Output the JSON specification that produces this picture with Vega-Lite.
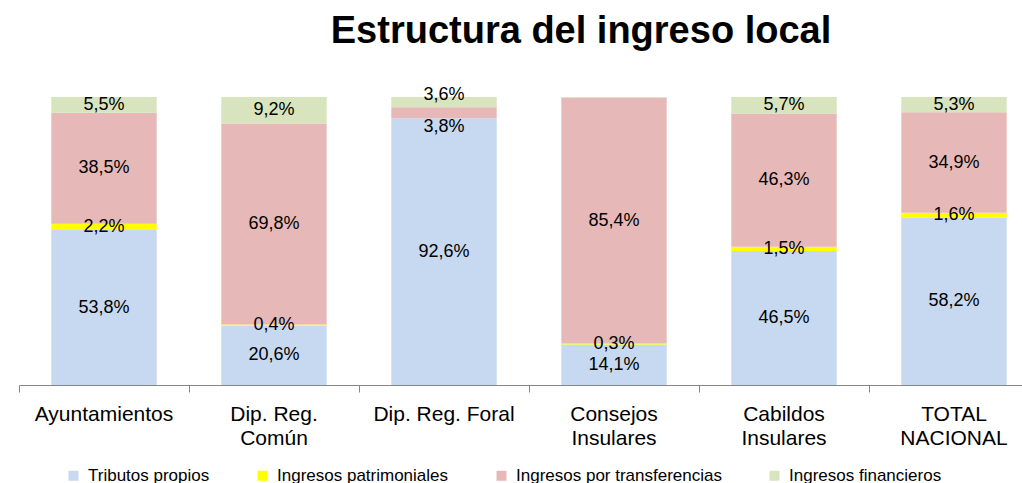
{
  "$schema": "https://vega.github.io/schema/vega-lite/v6.json",
  "width": 1020,
  "height": 288,
  "autosize": {"type": "none"},
  "padding": {"left": 19, "top": 97, "right": 0, "bottom": 98},
  "background": "white",
  "config": {"view": {"stroke": null}},
  "title": {
    "text": "Estructura del ingreso local",
    "font": "Liberation Sans",
    "fontSize": 38,
    "fontWeight": "bold",
    "color": "black",
    "anchor": "middle",
    "dx": 52,
    "offset": 5,
    "baseline": "alphabetic"
  },
  "data": {
    "values": [
      {"cat": "Ayuntamientos", "tipo": "Tributos propios", "valor": 53.8},
      {"cat": "Ayuntamientos", "tipo": "Ingresos patrimoniales", "valor": 2.2},
      {"cat": "Ayuntamientos", "tipo": "Ingresos por transferencias", "valor": 38.5},
      {"cat": "Ayuntamientos", "tipo": "Ingresos financieros", "valor": 5.5},
      {"cat": "Dip. Reg.|Común", "tipo": "Tributos propios", "valor": 20.6},
      {"cat": "Dip. Reg.|Común", "tipo": "Ingresos patrimoniales", "valor": 0.4},
      {"cat": "Dip. Reg.|Común", "tipo": "Ingresos por transferencias", "valor": 69.8},
      {"cat": "Dip. Reg.|Común", "tipo": "Ingresos financieros", "valor": 9.2},
      {"cat": "Dip. Reg. Foral", "tipo": "Tributos propios", "valor": 92.6},
      {"cat": "Dip. Reg. Foral", "tipo": "Ingresos patrimoniales", "valor": 0.0},
      {"cat": "Dip. Reg. Foral", "tipo": "Ingresos por transferencias", "valor": 3.8},
      {"cat": "Dip. Reg. Foral", "tipo": "Ingresos financieros", "valor": 3.6},
      {"cat": "Consejos|Insulares", "tipo": "Tributos propios", "valor": 14.1},
      {"cat": "Consejos|Insulares", "tipo": "Ingresos patrimoniales", "valor": 0.3},
      {"cat": "Consejos|Insulares", "tipo": "Ingresos por transferencias", "valor": 85.4},
      {"cat": "Consejos|Insulares", "tipo": "Ingresos financieros", "valor": 0.2},
      {"cat": "Cabildos|Insulares", "tipo": "Tributos propios", "valor": 46.5},
      {"cat": "Cabildos|Insulares", "tipo": "Ingresos patrimoniales", "valor": 1.5},
      {"cat": "Cabildos|Insulares", "tipo": "Ingresos por transferencias", "valor": 46.3},
      {"cat": "Cabildos|Insulares", "tipo": "Ingresos financieros", "valor": 5.7},
      {"cat": "TOTAL|NACIONAL", "tipo": "Tributos propios", "valor": 58.2},
      {"cat": "TOTAL|NACIONAL", "tipo": "Ingresos patrimoniales", "valor": 1.6},
      {"cat": "TOTAL|NACIONAL", "tipo": "Ingresos por transferencias", "valor": 34.9},
      {"cat": "TOTAL|NACIONAL", "tipo": "Ingresos financieros", "valor": 5.3}
    ]
  },
  "transform": [
    {"calculate": "indexof(['Tributos propios','Ingresos patrimoniales','Ingresos por transferencias','Ingresos financieros'], datum.tipo)", "as": "orden"},
    {"stack": "valor", "groupby": ["cat"], "sort": [{"field": "orden", "order": "ascending"}], "as": ["v0", "v1"]},
    {"calculate": "(datum.v0 + datum.v1) / 2", "as": "mid"},
    {"calculate": "replace(format(datum.valor, '.1f'), '.', ',') + '%'", "as": "lbl"}
  ],
  "encoding": {
    "x": {
      "field": "cat",
      "type": "nominal",
      "sort": null,
      "scale": {"paddingInner": 0, "paddingOuter": 0},
      "axis": {
        "title": null,
        "labelAngle": 0,
        "bandPosition": 0,
        "domainColor": "#868686",
        "tickColor": "#868686",
        "tickSize": 7,
        "labelFont": "Liberation Sans",
        "labelFontSize": 21,
        "labelColor": "black",
        "labelPadding": 11,
        "labelBaseline": "top",
        "labelLineHeight": 24,
        "labelLimit": 400,
        "labelExpr": "split(datum.label, '|')"
      }
    }
  },
  "layer": [
    {
      "mark": {"type": "bar", "width": {"band": 0.62}},
      "encoding": {
        "y": {"field": "v0", "type": "quantitative", "scale": {"domain": [0, 100], "nice": false}, "axis": null},
        "y2": {"field": "v1"},
        "color": {
          "field": "tipo",
          "type": "nominal",
          "scale": {
            "domain": ["Tributos propios", "Ingresos patrimoniales", "Ingresos por transferencias", "Ingresos financieros"],
            "range": ["#C6D9F0", "#FFFF00", "#E6B9B8", "#D7E4BD"]
          },
          "legend": {
            "orient": "none",
            "legendX": 46,
            "legendY": 370,
            "direction": "horizontal",
            "title": null,
            "symbolType": "square",
            "symbolSize": 100,
            "symbolStrokeWidth": 0,
            "symbolOpacity": 1,
            "labelFont": "Liberation Sans",
            "labelFontSize": 17,
            "labelColor": "black",
            "labelOffset": 6,
            "columnPadding": 44,
            "padding": 0,
            "labelLimit": 400
          }
        }
      }
    },
    {
      "transform": [{"filter": "datum.valor >= 0.3 && !(datum.valor < 4 && (datum.tipo == 'Ingresos financieros' || datum.tipo == 'Ingresos por transferencias'))"}],
      "mark": {"type": "text", "font": "Liberation Sans", "fontSize": 18, "color": "black", "baseline": "middle"},
      "encoding": {"y": {"field": "mid", "type": "quantitative"}, "text": {"field": "lbl"}}
    },
    {
      "transform": [{"filter": "datum.valor >= 0.3 && datum.valor < 4 && datum.tipo == 'Ingresos financieros'"}],
      "mark": {"type": "text", "font": "Liberation Sans", "fontSize": 18, "color": "black", "baseline": "middle", "dy": -7},
      "encoding": {"y": {"field": "mid", "type": "quantitative"}, "text": {"field": "lbl"}}
    },
    {
      "transform": [{"filter": "datum.valor < 4 && datum.tipo == 'Ingresos por transferencias'"}],
      "mark": {"type": "text", "font": "Liberation Sans", "fontSize": 18, "color": "black", "baseline": "middle", "dy": 14},
      "encoding": {"y": {"field": "mid", "type": "quantitative"}, "text": {"field": "lbl"}}
    }
  ]
}
